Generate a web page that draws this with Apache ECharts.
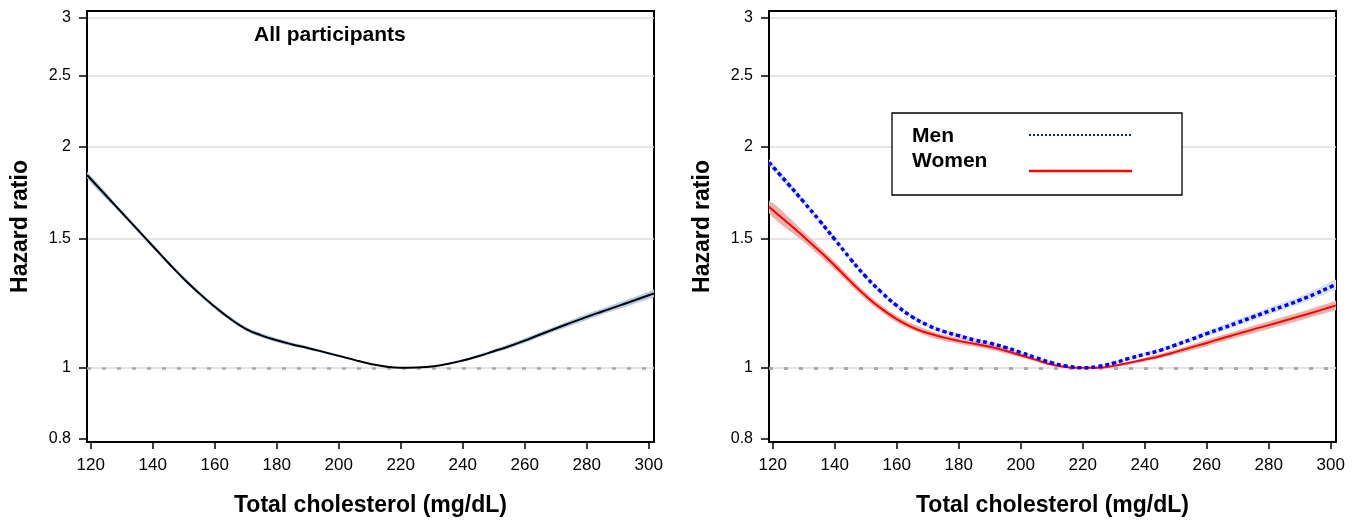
<!DOCTYPE html>
<html><head><meta charset="utf-8">
<script src="https://cdn.jsdelivr.net/npm/echarts@6/dist/echarts.min.js"></script>
<style>html,body{margin:0;padding:0;background:#fff}#c{width:1364px;height:522px}</style>
</head><body><div id="c"></div>
<script>
// ---- data ----
const cholesterol = [118.8,125,130,135,140,145,150,155,160,165,170,175,180,185,190,195,200,205,210,215,220,225,230,235,240,245,250,255,260,265,270,275,280,285,290,295,300,301.7];
const allHR   = [1.830,1.715,1.627,1.544,1.465,1.390,1.322,1.263,1.211,1.166,1.130,1.107,1.090,1.076,1.064,1.051,1.038,1.025,1.013,1.004,1.000,1.001,1.004,1.012,1.023,1.037,1.053,1.070,1.089,1.110,1.131,1.152,1.173,1.193,1.213,1.234,1.255,1.262];
const menHR   = [1.904,1.779,1.682,1.588,1.496,1.408,1.331,1.268,1.215,1.173,1.143,1.121,1.106,1.091,1.080,1.066,1.049,1.032,1.016,1.005,1.000,1.004,1.015,1.030,1.043,1.056,1.074,1.093,1.113,1.132,1.152,1.173,1.194,1.214,1.236,1.261,1.289,1.297];
const womenHR = [1.656,1.573,1.508,1.443,1.378,1.312,1.253,1.204,1.165,1.135,1.115,1.100,1.088,1.078,1.068,1.055,1.040,1.025,1.010,1.002,1.000,1.000,1.006,1.016,1.026,1.037,1.051,1.066,1.081,1.097,1.112,1.128,1.143,1.159,1.175,1.192,1.210,1.216];

const bandX   = [118.8,130,140,150,160,170,180,190,200,210,220,230,240,250,260,270,280,290,300,301.7];
const allLo   = [1.812,1.616,1.456,1.314,1.204,1.123,1.083,1.059,1.034,1.011,1.000,1.002,1.019,1.047,1.081,1.122,1.162,1.201,1.241,1.248];
const allHi   = [1.848,1.638,1.474,1.330,1.218,1.137,1.097,1.069,1.042,1.015,1.000,1.006,1.027,1.059,1.097,1.140,1.184,1.225,1.269,1.276];
const menLo   = [1.885,1.669,1.486,1.323,1.208,1.136,1.099,1.075,1.045,1.014,1.000,1.012,1.038,1.067,1.104,1.141,1.181,1.221,1.270,1.278];
const menHi   = [1.923,1.695,1.506,1.339,1.222,1.150,1.113,1.085,1.053,1.018,1.000,1.018,1.048,1.081,1.122,1.164,1.207,1.251,1.309,1.317];
const womenLo = [1.623,1.484,1.360,1.239,1.153,1.104,1.078,1.059,1.034,1.007,1.000,1.003,1.020,1.043,1.070,1.100,1.129,1.160,1.193,1.199];
const womenHi = [1.689,1.532,1.396,1.267,1.177,1.126,1.098,1.077,1.046,1.013,1.000,1.009,1.032,1.059,1.092,1.124,1.157,1.190,1.227,1.233];

const xTicks = [120,140,160,180,200,220,240,260,280,300];
const yTicks = [0.8,1,1.5,2,2.5,3];
const yTickLabels = ['0.8','1','1.5','2','2.5','3'];
const xRange = [118.8,301.7];
const yRange = [0.7924,3.06];
const referenceHR = 1;
const legendNames = ['Men','Women'];

// ---- chart ----
const FONT = "'Liberation Sans', Arial, Helvetica, sans-serif";
const L = Math.log;
const yLog = yTicks.map(L);
const pts = (xs, ys) => xs.map((x, i) => [x, L(ys[i])]);

function xAxis(gi) {
  return {
    type: 'value', gridIndex: gi, min: xRange[0], max: xRange[1],
    name: 'Total cholesterol (mg/dL)', nameLocation: 'middle', nameGap: 52,
    nameTextStyle: {fontFamily: FONT, fontSize: 23, fontWeight: 'bold', color: '#000'},
    axisLine: {show: true, onZero: false, lineStyle: {color: '#000', width: 2}},
    axisTick: {show: true, customValues: xTicks, length: 7, lineStyle: {color: '#000', width: 1.5}},
    axisLabel: {customValues: xTicks, margin: 15, fontFamily: FONT, fontSize: 17, color: '#000'},
    splitLine: {show: false}
  };
}
function yAxis(gi) {
  return {
    type: 'value', gridIndex: gi, min: L(yRange[0]), max: L(yRange[1]),
    name: 'Hazard ratio', nameLocation: 'middle', nameGap: 55, nameRotate: 90,
    nameTextStyle: {fontFamily: FONT, fontSize: 23, fontWeight: 'bold', color: '#000'},
    axisLine: {show: true, onZero: false, lineStyle: {color: '#000', width: 2}},
    axisTick: {show: true, customValues: yLog, length: 8, lineStyle: {color: '#000', width: 1.5}},
    axisLabel: {customValues: yLog, margin: 16, fontFamily: FONT, fontSize: 16, color: '#000',
      formatter: v => { const i = yLog.findIndex(t => Math.abs(t - v) < 1e-6); return i < 0 ? '' : yTickLabels[i]; }},
    splitLine: {show: true, showMinLine: false, lineStyle: {color: '#dcdcdc', width: 1.5}}
  };
}
function band(id, gi, lo, hi, color) {
  return {
    type: 'custom', name: id + ' CI', xAxisIndex: gi, yAxisIndex: gi, clip: true, silent: true, z: 2,
    data: bandX.map((x, i) => [x, L(lo[i]), L(hi[i])]),
    encode: {x: 0, y: [1, 2]},
    renderItem: (params, api) => {
      if (params.dataIndex !== 0) return null;
      const up = bandX.map((x, i) => api.coord([x, L(hi[i])]));
      const dn = bandX.map((x, i) => api.coord([x, L(lo[i])])).reverse();
      return {type: 'polygon', shape: {points: up.concat(dn), smooth: 0.3}, style: {fill: color}};
    },
    markLine: {silent: true, symbol: 'none', label: {show: false}, animation: false,
      lineStyle: {color: '#a9a9a9', type: [4, 11], width: 2.5}, data: [{yAxis: L(referenceHR)}]}
  };
}
function line(name, gi, ys, color, width, type, z) {
  return {type: 'line', name: name, xAxisIndex: gi, yAxisIndex: gi, data: pts(cholesterol, ys),
    smooth: 0.5, symbol: 'none', color: color, lineStyle: {color: color, width: width, type: type}, z: z};
}

const chart = echarts.init(document.getElementById('c'), null, {renderer: 'canvas'});
chart.setOption({
  animation: false,
  backgroundColor: '#fff',
  title: {text: 'All participants', left: 254, top: 25, padding: 0,
    textStyle: {fontFamily: FONT, fontSize: 21, fontWeight: 'bold', color: '#000'}},
  grid: [
    {left: 87, top: 11, width: 567, height: 432, show: true, borderColor: '#000', borderWidth: 2, backgroundColor: 'rgba(0,0,0,0)'},
    {left: 769, top: 11, width: 567, height: 432, show: true, borderColor: '#000', borderWidth: 2, backgroundColor: 'rgba(0,0,0,0)'}
  ],
  xAxis: [xAxis(0), xAxis(1)],
  yAxis: [yAxis(0), yAxis(1)],
  series: [
    band('all', 0, allLo, allHi, '#b5cbe6'),
    line('All participants', 0, allHR, '#000000', 2, 'solid', 5),
    band('men', 1, menLo, menHi, '#d5e1f2'),
    band('women', 1, womenLo, womenHi, '#e9b3ac'),
    line('Women', 1, womenHR, '#ff0000', 2, 'solid', 5),
    line('Men', 1, menHR, '#0000ff', 3.5, [4, 3], 6)
  ],
  graphic: [
    {type: 'rect', z: 20, shape: {x: 892, y: 113, width: 290, height: 82},
     style: {fill: '#fff', stroke: '#000', lineWidth: 1.3}},
    {type: 'text', z: 21, x: 912, y: 136, style: {text: legendNames[0], fontFamily: FONT, fontSize: 21, fontWeight: 'bold', fill: '#000', verticalAlign: 'middle'}},
    {type: 'text', z: 21, x: 912, y: 161, style: {text: legendNames[1], fontFamily: FONT, fontSize: 21, fontWeight: 'bold', fill: '#000', verticalAlign: 'middle'}},
    {type: 'line', z: 21, shape: {x1: 1029, y1: 135, x2: 1132, y2: 135}, style: {stroke: '#14206e', lineWidth: 2, lineDash: [2, 2]}},
    {type: 'line', z: 21, shape: {x1: 1029, y1: 171, x2: 1132, y2: 171}, style: {stroke: '#ff0000', lineWidth: 2.5}}
  ]
});
</script></body></html>
